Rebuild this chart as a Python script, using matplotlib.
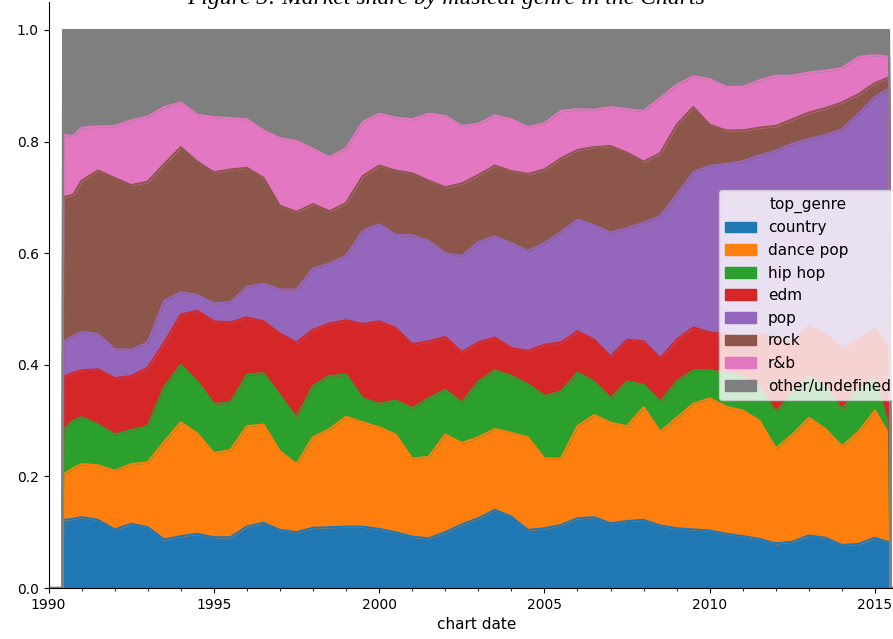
import numpy as np
import pandas as pd
import matplotlib
matplotlib.use('Agg')
import matplotlib.pyplot as plt
from matplotlib.ticker import MultipleLocator

# sample dates (decimal years) of the smoothed weekly chart shares
dates = [1990.44, 1990.75] + list(np.arange(1991.0, 2015.01, 0.5)) + [2015.42]

genres = ['country', 'dance pop', 'hip hop', 'edm', 'pop', 'rock', 'r&b', 'other/undefined']

# upper edge of each stacked band
country_edge = [0.122, 0.124, 0.127, 0.122, 0.105, 0.115, 0.109, 0.087, 0.093, 0.097,
                0.091, 0.091, 0.110, 0.117, 0.104, 0.100, 0.108, 0.109, 0.110, 0.110,
                0.106, 0.100, 0.092, 0.089, 0.100, 0.114, 0.125, 0.140, 0.128, 0.104,
                0.107, 0.113, 0.125, 0.127, 0.116, 0.120, 0.122, 0.112, 0.107, 0.105,
                0.103, 0.097, 0.093, 0.088, 0.080, 0.083, 0.094, 0.090, 0.077, 0.079,
                0.090, 0.082]
dance_pop_edge = [0.203, 0.215, 0.222, 0.220, 0.210, 0.222, 0.225, 0.262, 0.297, 0.277,
                  0.242, 0.247, 0.290, 0.293, 0.245, 0.222, 0.270, 0.285, 0.307, 0.297,
                  0.288, 0.275, 0.232, 0.235, 0.275, 0.260, 0.270, 0.285, 0.278, 0.270,
                  0.232, 0.232, 0.290, 0.310, 0.296, 0.290, 0.324, 0.280, 0.305, 0.330,
                  0.340, 0.325, 0.318, 0.300, 0.250, 0.275, 0.305, 0.285, 0.254, 0.280,
                  0.318, 0.275]
hip_hop_edge = [0.283, 0.300, 0.306, 0.293, 0.275, 0.283, 0.290, 0.360, 0.400, 0.370,
                0.330, 0.332, 0.382, 0.385, 0.345, 0.305, 0.362, 0.380, 0.382, 0.340,
                0.330, 0.336, 0.322, 0.340, 0.355, 0.332, 0.370, 0.390, 0.380, 0.365,
                0.344, 0.352, 0.386, 0.370, 0.340, 0.370, 0.364, 0.334, 0.370, 0.390,
                0.390, 0.385, 0.380, 0.360, 0.315, 0.350, 0.380, 0.360, 0.320, 0.355,
                0.375, 0.290]
edm_edge = [0.378, 0.386, 0.390, 0.392, 0.376, 0.380, 0.395, 0.440, 0.490, 0.497,
            0.478, 0.476, 0.485, 0.478, 0.456, 0.440, 0.463, 0.474, 0.480, 0.473,
            0.478, 0.466, 0.437, 0.442, 0.450, 0.423, 0.440, 0.449, 0.430, 0.425,
            0.436, 0.440, 0.460, 0.445, 0.415, 0.445, 0.442, 0.412, 0.445, 0.467,
            0.458, 0.455, 0.445, 0.455, 0.450, 0.440, 0.470, 0.455, 0.430, 0.445,
            0.465, 0.430]
pop_edge = [0.440, 0.452, 0.459, 0.455, 0.428, 0.427, 0.440, 0.515, 0.530, 0.525,
            0.510, 0.512, 0.540, 0.545, 0.535, 0.535, 0.572, 0.582, 0.595, 0.640,
            0.652, 0.633, 0.632, 0.622, 0.600, 0.595, 0.620, 0.630, 0.618, 0.604,
            0.618, 0.638, 0.660, 0.650, 0.637, 0.645, 0.655, 0.666, 0.705, 0.745,
            0.757, 0.760, 0.765, 0.775, 0.784, 0.796, 0.805, 0.812, 0.822, 0.850,
            0.880, 0.895]
rock_edge = [0.700, 0.705, 0.730, 0.748, 0.735, 0.722, 0.728, 0.760, 0.790, 0.764,
             0.745, 0.750, 0.753, 0.735, 0.685, 0.674, 0.688, 0.675, 0.690, 0.738,
             0.757, 0.748, 0.743, 0.730, 0.718, 0.725, 0.740, 0.757, 0.747, 0.742,
             0.750, 0.770, 0.785, 0.790, 0.792, 0.780, 0.764, 0.779, 0.830, 0.862,
             0.830, 0.820, 0.820, 0.825, 0.828, 0.840, 0.852, 0.860, 0.870, 0.885,
             0.905, 0.915]
rnb_edge = [0.812, 0.810, 0.825, 0.827, 0.828, 0.838, 0.845, 0.862, 0.870, 0.848,
            0.844, 0.842, 0.840, 0.820, 0.806, 0.801, 0.787, 0.772, 0.788, 0.835,
            0.850, 0.843, 0.840, 0.850, 0.846, 0.828, 0.832, 0.847, 0.840, 0.826,
            0.833, 0.855, 0.858, 0.857, 0.862, 0.858, 0.855, 0.878, 0.902, 0.917,
            0.912, 0.898, 0.898, 0.910, 0.918, 0.918, 0.924, 0.927, 0.932, 0.952,
            0.955, 0.952]

# rolling window leaves empty (zero) stretches at both ends
lead_dates = [1990.0, 1990.42]
tail_dates = [2015.47, 2015.9]

edges = np.vstack([np.zeros(len(dates)), country_edge, dance_pop_edge, hip_hop_edge,
                   edm_edge, pop_edge, rock_edge, rnb_edge, np.ones(len(dates))])
shares = np.diff(edges, axis=0).T

df = pd.DataFrame(shares, index=dates, columns=genres)
pad_lead = pd.DataFrame(0.0, index=lead_dates, columns=genres)
pad_tail = pd.DataFrame(0.0, index=tail_dates, columns=genres)
df = pd.concat([pad_lead, df, pad_tail])
df.columns.name = 'top_genre'

fig = plt.figure(figsize=(8.93, 6.39), dpi=100)
ax = fig.add_axes([48.5 / 893, 51 / 639, (904.8 - 48.5) / 893, 585.9 / 639])

df.plot.area(ax=ax)

ax.set_xlim(1990, 2015.9)
ax.set_ylim(0, 1.05)
ax.xaxis.set_major_locator(MultipleLocator(5))
ax.xaxis.set_minor_locator(MultipleLocator(1))
ax.xaxis.set_major_formatter(matplotlib.ticker.FuncFormatter(lambda v, p: f'{int(v)}'))
ax.yaxis.set_major_locator(MultipleLocator(0.2))
ax.tick_params(labelsize=10)
ax.set_xlabel('chart date', fontsize=11)
ax.spines['top'].set_visible(False)
ax.spines['right'].set_visible(False)

handles = ax.get_legend().legend_handles
labels = [t.get_text() for t in ax.get_legend().get_texts()]
ax.legend(handles, labels, title='top_genre', loc='center right',
          fontsize=11, title_fontsize=11)

fig.text(0.5, 1 - 4 / 639, 'Figure 3: Market share by musical genre in the Charts',
         ha='center', va='baseline', family='Liberation Serif', style='italic', fontsize=17)

fig.savefig('out.png', dpi=100)
